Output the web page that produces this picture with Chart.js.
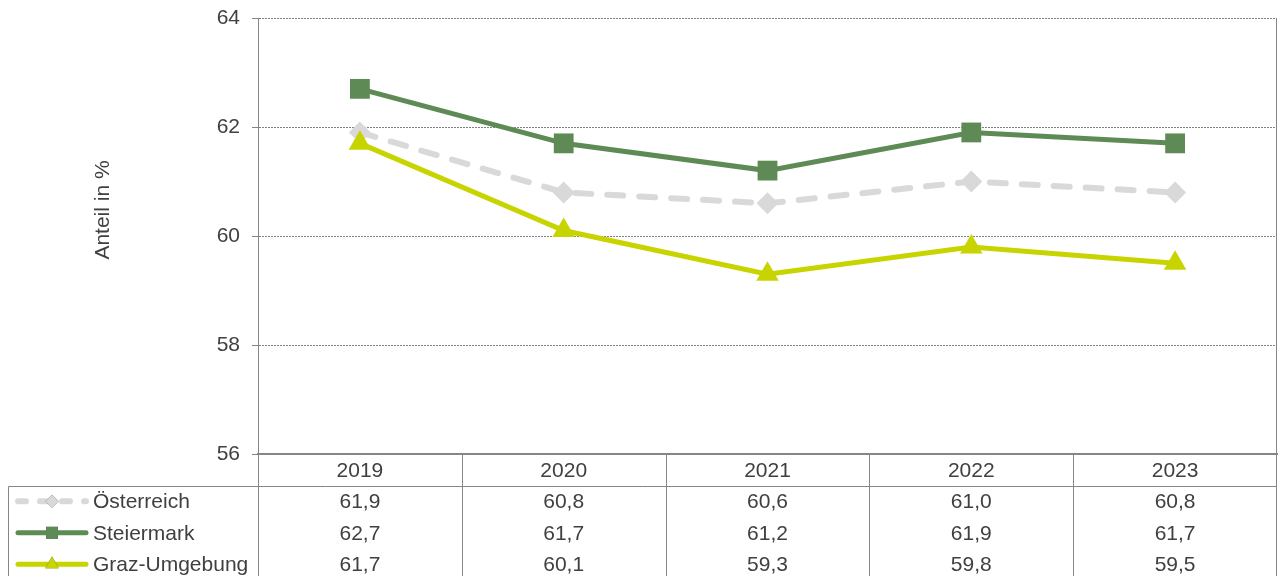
<!DOCTYPE html>
<html>
<head>
<meta charset="utf-8">
<script src="https://cdn.jsdelivr.net/npm/chart.js@4/dist/chart.umd.min.js"></script>
<style>
  html, body { margin: 0; padding: 0; background: #fff; }
  #wrap { width: 1280px; height: 576px; }
</style>
</head>
<body>
<div id="wrap"><canvas id="myChart" width="1280" height="576"></canvas></div>
<script>
const years = ['2019', '2020', '2021', '2022', '2023']
const oesterreich = [61.9, 60.8, 60.6, 61.0, 60.8]
const steiermark = [62.7, 61.7, 61.2, 61.9, 61.7]
const grazUmgebung = [61.7, 60.1, 59.3, 59.8, 59.5]
const yTicks = [56, 58, 60, 62, 64]
const yTitle = 'Anteil in %'

const fontFam = '"Liberation Sans", Arial, sans-serif'
const textColor = '#404040'
const lineGray = '#868686'

const fmt = v => v.toFixed(1).replace('.', ',')

// draws the y title, the right frame and the data table under the plot
const tablePlugin = {
  id: 'dataTable',
  afterDraw(chart) {
    const ctx = chart.ctx
    const area = chart.chartArea
    const xs = chart.scales.x
    const n = years.length
    const centers = years.map((y, i) => xs.getPixelForValue(i))
    const bounds = [area.left]
    for (let i = 0; i < n - 1; i++) bounds.push((centers[i] + centers[i + 1]) / 2)
    bounds.push(area.right)

    const rowH = 31.5
    const headY = area.bottom + rowH / 2
    const tableLeft = 8
    const bottom = chart.height

    ctx.save()
    // right frame of plot + table
    ctx.strokeStyle = lineGray
    ctx.lineWidth = 1
    ctx.beginPath()
    ctx.moveTo(Math.round(area.right) - 0.5, area.top)
    ctx.lineTo(Math.round(area.right) - 0.5, bottom)
    // vertical column lines
    bounds.slice(0, -1).forEach(b => {
      ctx.moveTo(Math.round(b) + 0.5, area.bottom)
      ctx.lineTo(Math.round(b) + 0.5, bottom)
    })
    // header line and left border
    const hy = Math.round(area.bottom + rowH) + 0.5
    ctx.moveTo(tableLeft + 0.5, hy)
    ctx.lineTo(area.right, hy)
    ctx.moveTo(tableLeft + 0.5, hy)
    ctx.lineTo(tableLeft + 0.5, bottom)
    ctx.stroke()

    ctx.fillStyle = textColor
    ctx.font = '21px ' + fontFam
    ctx.textAlign = 'center'
    ctx.textBaseline = 'middle'
    years.forEach((y, i) => ctx.fillText(y, centers[i], headY + 1))

    chart.data.datasets.forEach((ds, r) => {
      const rowY = area.bottom + rowH * (r + 1.5)
      ctx.fillStyle = textColor
      ctx.textAlign = 'center'
      ds.data.forEach((v, i) => ctx.fillText(fmt(v), centers[i], rowY + 1))
      ctx.textAlign = 'left'
      ctx.fillText(ds.label, 93, rowY + 1)
      // legend key
      ctx.save()
      ctx.strokeStyle = ds.borderColor
      ctx.lineWidth = ds.borderWidth
      ctx.lineCap = 'round'
      ctx.setLineDash(ds.borderDash ? [8, 14] : [])
      ctx.beginPath()
      ctx.moveTo(18, rowY)
      ctx.lineTo(86, rowY)
      ctx.stroke()
      ctx.restore()
      Chart.helpers.drawPoint(ctx, {
        pointStyle: ds.pointStyle,
        radius: ds.pointRadius * 0.6,
        rotation: 0,
        borderWidth: 0
      }, 52, rowY)
      ctx.fillStyle = ds.pointBackgroundColor
      ctx.fill()
    })

    // y axis title
    ctx.translate(103, 210)
    ctx.rotate(-Math.PI / 2)
    ctx.fillStyle = textColor
    ctx.font = '21px ' + fontFam
    ctx.textAlign = 'center'
    ctx.textBaseline = 'middle'
    ctx.fillText(yTitle, 0, 0)
    ctx.restore()
  }
}

const ctx = document.getElementById('myChart').getContext('2d')
const chart = new Chart(ctx, {
  type: 'line',
  data: {
    labels: years,
    datasets: [
      {
        label: 'Österreich',
        data: oesterreich,
        borderColor: '#d9d9d9',
        backgroundColor: '#d9d9d9',
        pointBackgroundColor: '#d9d9d9',
        pointBorderWidth: 0,
        borderWidth: 6,
        borderDash: [16, 16],
        borderCapStyle: 'round',
        pointStyle: 'rectRot',
        pointRadius: 11,
        order: 3
      },
      {
        label: 'Steiermark',
        data: steiermark,
        borderColor: '#5e8a55',
        backgroundColor: '#5e8a55',
        pointBackgroundColor: '#5e8a55',
        pointBorderWidth: 0,
        borderWidth: 5,
        pointStyle: 'rect',
        pointRadius: 14,
        order: 2
      },
      {
        label: 'Graz-Umgebung',
        data: grazUmgebung,
        borderColor: '#c8d400',
        backgroundColor: '#c8d400',
        pointBackgroundColor: '#c8d400',
        pointBorderWidth: 0,
        borderWidth: 5,
        pointStyle: 'triangle',
        pointRadius: 13,
        order: 1
      }
    ]
  },
  options: {
    responsive: false,
    animation: false,
    layout: { autoPadding: false, padding: { top: 18, right: 3, bottom: 122, left: 0 } },
    plugins: {
      legend: { display: false },
      tooltip: { enabled: false },
      title: { display: false }
    },
    elements: { line: { tension: 0 } },
    scales: {
      x: {
        type: 'category',
        offset: true,
        ticks: { display: false },
        grid: { display: false },
        border: { display: true, color: lineGray, width: 2 },
        afterFit: scale => {
          scale.height = 0
          scale.paddingLeft = 0
          scale.paddingRight = 0
        }
      },
      y: {
        min: 56,
        max: 64,
        afterBuildTicks: scale => { scale.ticks = yTicks.map(v => ({ value: v })) },
        ticks: {
          color: textColor,
          font: { family: fontFam, size: 21 },
          padding: 12
        },
        grid: {
          color: '#808080',
          tickLength: 6,
          tickColor: lineGray,
          tickBorderDash: [1, 0]
        },
        border: { color: lineGray, width: 1, dash: [2, 1] },
        afterFit: scale => {
          scale.width = 258
          scale.paddingTop = 0
          scale.paddingBottom = 0
        }
      }
    }
  },
  plugins: [tablePlugin]
})
</script>
</body>
</html>
